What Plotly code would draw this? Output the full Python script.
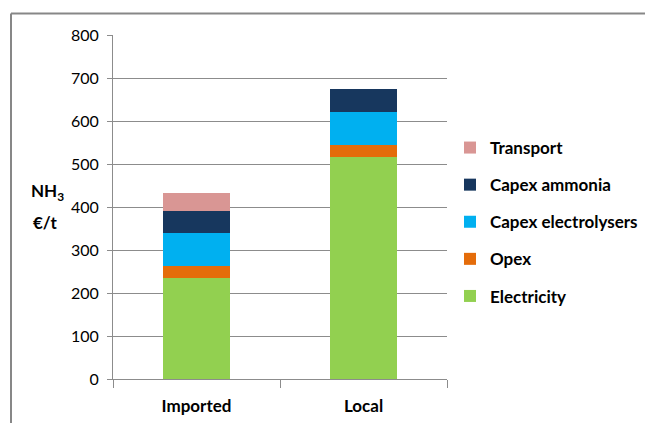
import plotly.graph_objects as go

# Cost breakdown of ammonia (EUR per tonne) by supply route
categories = ["Imported", "Local"]
electricity = [234, 517]
opex = [28, 28]
capex_electrolysers = [78, 77]
capex_ammonia = [51, 52]
transport = [41, 0]

series = [
    ("Electricity", electricity, "#92D050"),
    ("Opex", opex, "#E46C0A"),
    ("Capex electrolysers", capex_electrolysers, "#00B0F0"),
    ("Capex ammonia", capex_ammonia, "#17375E"),
    ("Transport", transport, "#D99694"),
]

y_ticks = [0, 100, 200, 300, 400, 500, 600, 700, 800]

FONT = "Lato"
GRID = "#8c8c8c"

fig = go.Figure()
n = len(series)
for i, (name, vals, color) in enumerate(series):
    fig.add_trace(go.Bar(
        x=categories,
        y=vals,
        name=name,
        legendgroup=name,
        legendrank=n - i,
        marker=dict(color=color, line=dict(width=0)),
        width=0.4,
    ))

# plot-area geometry in pixels
W, H = 645, 423
L, R, T, B = 113, 198, 35, 44
pw = W - L - R
ph = H - T - B


def px_x(x):
    return (x - L) / pw


def px_y(y):
    return (H - B - y) / ph


fig.update_layout(
    width=W,
    height=H,
    margin=dict(l=L, r=R, t=T, b=B, pad=0, autoexpand=False),
    barmode="stack",
    plot_bgcolor="white",
    paper_bgcolor="white",
    font=dict(family=FONT, color="#000000"),
    showlegend=True,
    legend=dict(
        x=px_x(450),
        y=px_y(130),
        xanchor="left",
        yanchor="top",
        traceorder="grouped",
        tracegroupgap=12,
        font=dict(family=FONT, size=17, color="#000000", weight="bold"),
        bgcolor="rgba(0,0,0,0)",
        itemclick=False,
    ),
    xaxis=dict(
        type="category",
        automargin=False,
        showline=True,
        linecolor=GRID,
        linewidth=1,
        ticks="outside",
        tickson="boundaries",
        ticklen=8,
        tickcolor=GRID,
        tickfont=dict(family=FONT, size=17, weight="bold", color="#000000"),
        ticklabelstandoff=12,
        showgrid=False,
    ),
    yaxis=dict(
        range=[0, 800],
        automargin=False,
        tickvals=y_ticks,
        showline=True,
        linecolor=GRID,
        linewidth=1,
        ticks="outside",
        ticklen=5,
        tickcolor=GRID,
        showgrid=True,
        gridcolor=GRID,
        gridwidth=1,
        zeroline=False,
        tickfont=dict(family=FONT, size=16, color="#000000"),
        ticklabelstandoff=5,
    ),
    shapes=[
        # outer frame: top and left edges
        dict(type="line", xref="paper", yref="paper",
             x0=px_x(11), x1=px_x(646), y0=px_y(13.5), y1=px_y(13.5),
             line=dict(color="#878787", width=2)),
        dict(type="line", xref="paper", yref="paper",
             x0=px_x(11), x1=px_x(11), y0=px_y(13.5), y1=px_y(424),
             line=dict(color="#878787", width=2)),
    ],
    annotations=[
        dict(text="<b>NH<sub>3</sub></b>", xref="paper", yref="paper",
             x=px_x(47), y=px_y(192), xanchor="center", yanchor="middle",
             showarrow=False, font=dict(family=FONT, size=17, color="#000000")),
        dict(text="<b>€/t</b>", xref="paper", yref="paper",
             x=px_x(45), y=px_y(222), xanchor="center", yanchor="middle",
             showarrow=False, font=dict(family=FONT, size=17, color="#000000")),
    ],
)

fig.write_html("out.html")
